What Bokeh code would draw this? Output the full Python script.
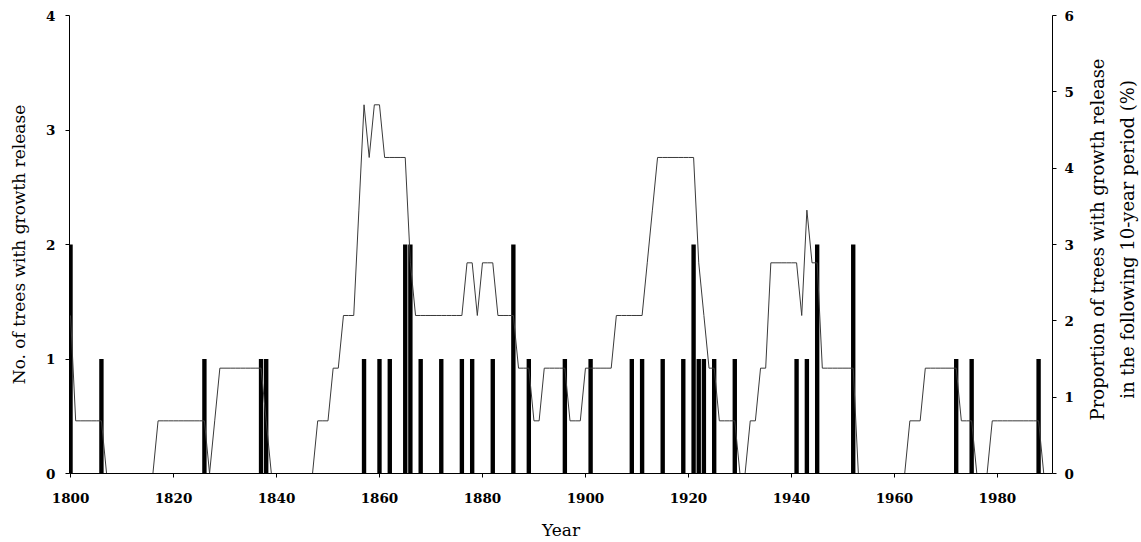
import math
from bokeh.plotting import figure
from bokeh.layouts import row
from bokeh.models import Range1d, LinearAxis, FixedTicker, ColumnDataSource
from bokeh.core.properties import value
from bokeh.embed import file_html
from bokeh.resources import INLINE

# Number of trees with growth release per year (left axis)
release_years = [1800, 1806, 1826, 1837, 1838, 1857, 1860, 1862, 1865, 1866,
                 1868, 1872, 1876, 1878, 1882, 1886, 1889, 1896, 1901, 1909,
                 1911, 1915, 1919, 1921, 1922, 1923, 1925, 1929, 1941, 1943,
                 1945, 1952, 1972, 1975, 1988]
release_counts = [2, 1, 1, 1, 1, 1, 1, 1, 2, 2,
                  1, 1, 1, 1, 1, 2, 1, 1, 1, 1,
                  1, 1, 1, 2, 1, 1, 1, 1, 1, 1,
                  2, 2, 1, 1, 1]

# Proportion (%) of trees with growth release in the following 10-year period,
# one value per year from 1800 to 1990 (right axis)
first_year = 1800
proportion_pct = [
    2.07, 0.69, 0.69, 0.69, 0.69, 0.69, 0.69, 0.00, 0.00, 0.00,   # 1800s
    0.00, 0.00, 0.00, 0.00, 0.00, 0.00, 0.00, 0.69, 0.69, 0.69,   # 1810s
    0.69, 0.69, 0.69, 0.69, 0.69, 0.69, 0.69, 0.00, 0.69, 1.38,   # 1820s
    1.38, 1.38, 1.38, 1.38, 1.38, 1.38, 1.38, 1.38, 0.69, 0.00,   # 1830s
    0.00, 0.00, 0.00, 0.00, 0.00, 0.00, 0.00, 0.00, 0.69, 0.69,   # 1840s
    0.69, 1.38, 1.38, 2.07, 2.07, 2.07, 3.45, 4.83, 4.14, 4.83,   # 1850s
    4.83, 4.14, 4.14, 4.14, 4.14, 4.14, 2.76, 2.07, 2.07, 2.07,   # 1860s
    2.07, 2.07, 2.07, 2.07, 2.07, 2.07, 2.07, 2.76, 2.76, 2.07,   # 1870s
    2.76, 2.76, 2.76, 2.07, 2.07, 2.07, 2.07, 1.38, 1.38, 1.38,   # 1880s
    0.69, 0.69, 1.38, 1.38, 1.38, 1.38, 1.38, 0.69, 0.69, 0.69,   # 1890s
    1.38, 1.38, 1.38, 1.38, 1.38, 1.38, 2.07, 2.07, 2.07, 2.07,   # 1900s
    2.07, 2.07, 2.76, 3.45, 4.14, 4.14, 4.14, 4.14, 4.14, 4.14,   # 1910s
    4.14, 4.14, 2.76, 2.07, 1.38, 1.38, 0.69, 0.69, 0.69, 0.69,   # 1920s
    0.00, 0.00, 0.69, 0.69, 1.38, 1.38, 2.76, 2.76, 2.76, 2.76,   # 1930s
    2.76, 2.76, 2.07, 3.45, 2.76, 2.76, 1.38, 1.38, 1.38, 1.38,   # 1940s
    1.38, 1.38, 1.38, 0.00, 0.00, 0.00, 0.00, 0.00, 0.00, 0.00,   # 1950s
    0.00, 0.00, 0.00, 0.69, 0.69, 0.69, 1.38, 1.38, 1.38, 1.38,   # 1960s
    1.38, 1.38, 1.38, 0.69, 0.69, 0.69, 0.00, 0.00, 0.00, 0.69,   # 1970s
    0.69, 0.69, 0.69, 0.69, 0.69, 0.69, 0.69, 0.69, 0.69, 0.00,   # 1980s
    0.00,                                                         # 1990
]
proportion_years = [first_year + i for i in range(len(proportion_pct))]

x_ticks = [1800, 1820, 1840, 1860, 1880, 1900, 1920, 1940, 1960, 1980]
left_ticks = [0, 1, 2, 3, 4]
right_ticks = [0, 1, 2, 3, 4, 5, 6]
right_title_lines = ["Proportion of trees with growth release",
                     "in the following 10-year period (%)"]

SERIF = "DejaVu Serif"
H = 542
MAIN_W, SIDE_W = 1076, 65

p = figure(width=MAIN_W, height=H,
           x_range=Range1d(1799.8, 1990.7), y_range=Range1d(0, 4),
           output_backend="svg", toolbar_location=None,
           min_border_left=69, min_border_right=24,
           min_border_top=15, min_border_bottom=69)
p.extra_y_ranges = {"pct": Range1d(0, 6)}
p.grid.visible = False
p.outline_line_color = None
p.background_fill_color = "white"
p.border_fill_color = "white"

bars = ColumnDataSource(dict(x=release_years, top=release_counts))
p.vbar(x="x", top="top", bottom=0, width=0.85, source=bars,
       fill_color="black", line_color=None)

line = ColumnDataSource(dict(x=proportion_years, y=proportion_pct))
p.line(x="x", y="y", source=line, y_range_name="pct",
       line_color="#3a3a3a", line_width=1)

def style(ax, ticks, standoff):
    ax.ticker = FixedTicker(ticks=ticks)
    ax.axis_line_color = "black"
    ax.axis_line_width = 1
    ax.major_tick_line_color = "black"
    ax.major_tick_out = 4
    ax.major_tick_in = 0
    ax.minor_tick_line_color = None
    ax.major_label_text_font = SERIF
    ax.major_label_text_font_style = "bold"
    ax.major_label_text_font_size = "13.5px"
    ax.major_label_text_color = "black"
    ax.major_label_standoff = standoff
    ax.axis_label_text_font = SERIF
    ax.axis_label_text_font_style = "normal"
    ax.axis_label_text_font_size = "17px"
    ax.axis_label_text_color = "black"

xa = p.xaxis[0]
style(xa, x_ticks, 15)
xa.axis_label = "Year"
xa.axis_label_standoff = 14

ya = p.yaxis[0]
style(ya, left_ticks, 10)
ya.axis_label = "No. of trees with growth release"
ya.axis_label_standoff = 14

ra = LinearAxis(y_range_name="pct")
style(ra, right_ticks, 8)
p.add_layout(ra, "right")

# side panel holding the two-line right-axis title (reads bottom to top)
side = figure(width=SIDE_W, height=H, x_range=Range1d(0, SIDE_W), y_range=Range1d(0, H),
              x_axis_type=None, y_axis_type=None,
              output_backend="svg", toolbar_location=None,
              min_border_left=0, min_border_right=0, min_border_top=0, min_border_bottom=0)
side.grid.visible = False
side.outline_line_color = None
side.background_fill_color = "white"
side.border_fill_color = "white"
side.text(x=[21, 51], y=[H - 265, H - 265], text=right_title_lines,
          angle=math.pi / 2, text_align="center", text_baseline="middle",
          text_font=value(SERIF), text_font_size="18px", text_color="black")

layout = row(p, side)
open("out.html", "w").write(file_html(layout, INLINE))
